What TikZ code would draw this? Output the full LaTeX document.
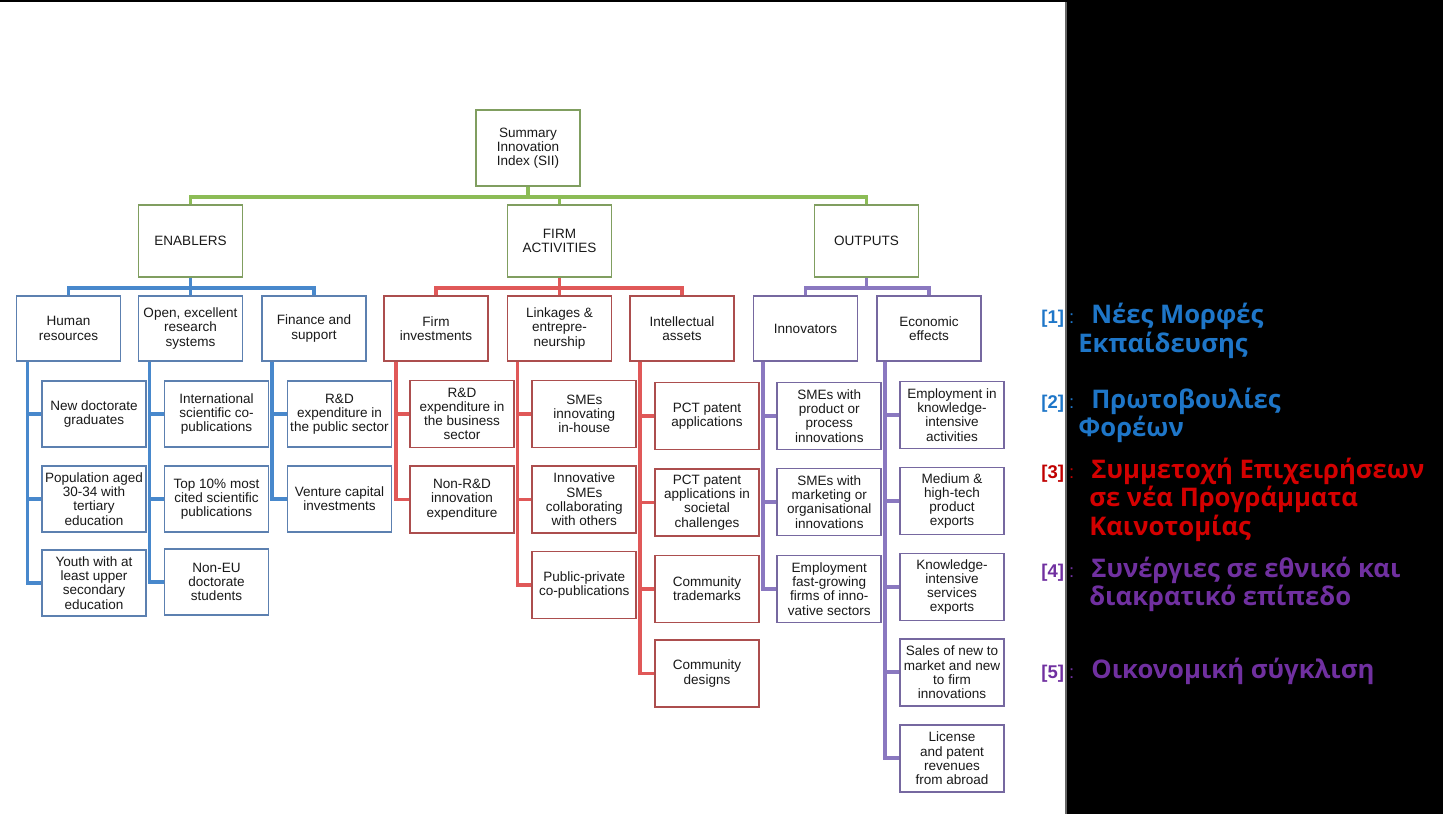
\documentclass[tikz,border=0pt]{standalone}
\usepackage{fontspec}
\setmainfont{Liberation Sans}
\newfontfamily\greekfont{Open Sans}

\definecolor{grnline}{RGB}{140,188,86}
\definecolor{grnbox}{RGB}{128,158,96}
\definecolor{bluline}{RGB}{72,136,204}
\definecolor{blubox}{RGB}{92,128,176}
\definecolor{redline}{RGB}{224,88,88}
\definecolor{redbox}{RGB}{172,78,78}
\definecolor{purline}{RGB}{138,120,192}
\definecolor{purbox}{RGB}{118,104,160}
\definecolor{keyblue}{RGB}{30,118,200}
\definecolor{keyred}{RGB}{212,0,0}
\definecolor{keydred}{RGB}{192,0,0}
\definecolor{keypurple}{RGB}{112,48,160}

\begin{document}
\begin{tikzpicture}[x=0.02cm, y=-0.02cm,
    box/.style={draw, line width=1.1pt, align=center, minimum width=2.08cm,
        inner sep=1pt, font=\fontsize{7.7}{8.1}\selectfont, text=black!90},
    headbox/.style={box, draw=grnbox, minimum height=1.44cm},
    bluebox/.style={box, draw=blubox, minimum height=1.3cm},
    redbox/.style={box, draw=redbox, minimum height=1.3cm},
    purbox/.style={box, draw=purbox, minimum height=1.3cm},
    bluekid/.style={bluebox, minimum height=1.32cm},
    redkid/.style={redbox, minimum height=1.34cm},
    purkid/.style={purbox, minimum height=1.34cm},
    grnlink/.style={grnline, line width=1.8pt},
    blulink/.style={bluline, line width=2.2pt},
    redlink/.style={redline, line width=2.2pt},
    purlink/.style={purline, line width=2.2pt},
    keytag/.style={anchor=base west, inner sep=0pt, font=\fontsize{10.5}{12}\selectfont},
    keytext/.style={anchor=base west, inner sep=0pt, font=\greekfont\bfseries\fontsize{14.6}{16}\selectfont},
]
    % Page
    \useasboundingbox (0,0) rectangle (1443,814);
    \fill[white] (0,0) rectangle (1067,814);
    \fill[black] (1067,0) rectangle (1443,814);
    \draw[black!60, line width=0.6pt] (1066,0) -- (1066,814);
    \draw[black, line width=0.9pt] (0,0.8) -- (1067,0.8);

    % Root and pillars
    \node[headbox, minimum height=1.52cm] (sii) at (528,148) {Summary\\Innovation\\Index (SII)};
    \node[headbox] (enab) at (190.5,241) {ENABLERS};
    \node[headbox] (firm) at (559.5,241) {FIRM\\ACTIVITIES};
    \node[headbox] (outp) at (866.5,241) {OUTPUTS};
    \foreach \p in {enab,firm,outp}
        \draw[grnlink] (sii.south) -- ++(0,10) -| (\p.north);

    % Dimensions
    \node[bluebox] (hr) at (68.5,328.5) {Human\\resources};
    \node[bluebox] (open) at (190.5,328.5) {Open, excellent\\research\\systems};
    \node[bluebox] (fin) at (314,328.5) {Finance and\\support};
    \node[redbox] (finv) at (436,328.5) {Firm\\investments};
    \node[redbox] (link) at (559.5,328.5) {Linkages \&\\entrepre-\\neurship};
    \node[redbox] (intel) at (682,328.5) {Intellectual\\assets};
    \node[purbox] (innov) at (805.5,328.5) {Innovators};
    \node[purbox] (econ) at (929,328.5) {Economic\\effects};
    \foreach \d in {hr,open,fin}
        \draw[blulink] (enab.south) -- ++(0,10) -| (\d.north);
    \foreach \d in {finv,link,intel}
        \draw[redlink] (firm.south) -- ++(0,10) -| (\d.north);
    \foreach \d in {innov,econ}
        \draw[purlink] (outp.south) -- ++(0,10) -| (\d.north);

    % Enablers indicators
    \foreach \i/\yy/\txt in {1/414/{New doctorate\\graduates},
        2/499/{Population aged\\30-34 with\\tertiary\\education},
        3/583/{Youth with at\\least upper\\secondary\\education}}
        \node[bluekid] (hr\i) at (94,\yy) {\txt};
    \foreach \i/\yy/\txt in {1/414/{International\\scientific co-\\publications},
        2/499/{Top 10\% most\\cited scientific\\publications},
        3/582/{Non-EU\\doctorate\\students}}
        \node[bluekid] (open\i) at (216.5,\yy) {\txt};
    \foreach \i/\yy/\txt in {1/414/{R\&D\\expenditure in\\the public sector},
        2/499/{Venture capital\\investments}}
        \node[bluekid] (fin\i) at (339.5,\yy) {\txt};
    \foreach \i in {1,2,3} {
        \draw[blulink] ([xshift=0.24cm]hr.south west) |- (hr\i.west);
        \draw[blulink] ([xshift=0.24cm]open.south west) |- (open\i.west);
    }
    \foreach \i in {1,2}
        \draw[blulink] ([xshift=0.22cm]fin.south west) |- (fin\i.west);

    % Firm activities indicators
    \foreach \i/\yy/\txt in {1/414/{R\&D\\expenditure in\\the business\\sector},
        2/499.5/{Non-R\&D\\innovation\\expenditure}}
        \node[redkid] (finv\i) at (462,\yy) {\txt};
    \foreach \i/\yy/\txt in {1/414/{SMEs\\innovating\\in-house},
        2/499.5/{Innovative\\SMEs\\collaborating\\with others},
        3/585/{Public-private\\co-publications}}
        \node[redkid] (link\i) at (584.3,\yy) {\txt};
    \foreach \i/\yy/\txt in {1/416/{PCT patent\\applications},
        2/502.5/{PCT patent\\applications in\\societal\\challenges},
        3/589/{Community\\trademarks},
        4/673.5/{Community\\designs}}
        \node[redkid] (intel\i) at (707,\yy) {\txt};
    \foreach \i in {1,2}
        \draw[redlink] ([xshift=0.26cm]finv.south west) |- (finv\i.west);
    \foreach \i in {1,2,3}
        \draw[redlink] ([xshift=0.22cm]link.south west) |- (link\i.west);
    \foreach \i in {1,...,4}
        \draw[redlink] ([xshift=0.22cm]intel.south west) |- (intel\i.west);

    % Outputs indicators
    \foreach \i/\yy/\txt in {1/416/{SMEs with\\product or\\process\\innovations},
        2/502/{SMEs with\\marketing or\\organisational\\innovations},
        3/589/{Employment\\fast-growing\\firms of inno-\\vative sectors}}
        \node[purkid] (innov\i) at (829.3,\yy) {\txt};
    \foreach \i/\yy/\txt in {1/415/{Employment in\\knowledge-\\intensive\\activities},
        2/501/{Medium \&\\high-tech\\product\\exports},
        3/587/{Knowledge-\\intensive\\services\\exports},
        4/672.3/{Sales of new to\\market and new\\to firm\\innovations},
        5/758.3/{License\\and patent\\revenues\\from abroad}}
        \node[purkid] (econ\i) at (952,\yy) {\txt};
    \foreach \i in {1,2,3}
        \draw[purlink] ([xshift=0.21cm]innov.south west) |- (innov\i.west);
    \foreach \i in {1,...,5}
        \draw[purlink] ([xshift=0.18cm]econ.south west) |- (econ\i.west);

    % Key
    \node[keytag, text=keyblue] (k1) at (1041,323) {\textbf{[1]}\ :};
    \node[keytext, text=keyblue] (t1a) at (1091,323) {Νέες Μορφές};
    \node[keytext, text=keyblue] (t1b) at (1078,352) {Εκπαίδευσης};
    \node[keytag, text=keyblue] (k2) at (1041,408) {\textbf{[2]}\ :};
    \node[keytext, text=keyblue] (t2a) at (1091,408) {Πρωτοβουλίες};
    \node[keytext, text=keyblue] (t2b) at (1078,436) {Φορέων};
    \node[keytag, text=keydred] (k3) at (1041,478) {\textbf{[3]}\ :};
    \node[keytext, text=keyred] (t3a) at (1091,478) {Συμμετοχή Επιχειρήσεων};
    \node[keytext, text=keyred] (t3b) at (1089,506) {σε νέα Προγράμματα};
    \node[keytext, text=keyred] (t3c) at (1089,535) {Καινοτομίας};
    \node[keytag, text=keypurple] (k4) at (1041,577) {\textbf{[4]}\ :};
    \node[keytext, text=keypurple] (t4a) at (1091,577) {Συνέργιες σε εθνικό και};
    \node[keytext, text=keypurple] (t4b) at (1089,605) {διακρατικό επίπεδο};
    \node[keytag, text=keypurple] (k5) at (1041,678) {\textbf{[5]}\ :};
    \node[keytext, text=keypurple] (t5a) at (1091,678) {Οικονομική σύγκλιση};
\end{tikzpicture}
\end{document}
